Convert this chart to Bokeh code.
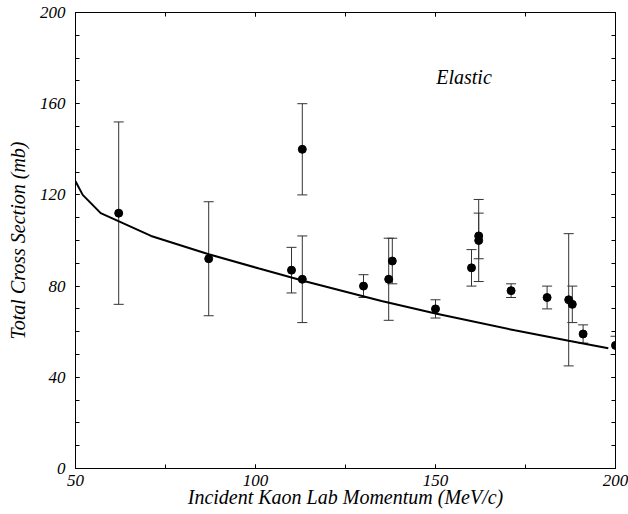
from bokeh.plotting import figure
from bokeh.models import (ColumnDataSource, Whisker, TeeHead, LinearAxis, Range1d,
                          SingleIntervalTicker, Label, CustomJSTickFormatter)
from bokeh.embed import file_html
from bokeh.resources import INLINE

# ---- data ----
momentum = [62, 87, 110, 113, 113, 130, 137, 138, 150, 160, 162, 162, 171, 181, 187, 188, 191, 200]
cross_section = [112, 92, 87, 83, 140, 80, 83, 91, 70, 88, 100, 102, 78, 75, 74, 72, 59, 54]
error = [40, 25, 10, 19, 20, 5, 18, 10, 4, 8, 18, 10, 3, 5, 29, 8, 4, 4]

curve_x = [50, 52, 57, 71, 87, 101, 114, 135, 150, 172, 187, 198]
curve_y = [126, 120, 112, 102, 94, 87.7, 82, 73.5, 68, 60.6, 56, 52.7]

x_ticks_interval = 50
y_ticks_interval = 40

FONT = "Liberation Serif, Times New Roman, DejaVu Serif, serif"

src = ColumnDataSource(dict(
    x=momentum, y=cross_section,
    lo=[v - e for v, e in zip(cross_section, error)],
    hi=[v + e for v, e in zip(cross_section, error)],
))

p = figure(width=628, height=514, output_backend="svg", toolbar_location=None,
           x_range=Range1d(50, 200), y_range=Range1d(0, 200),
           min_border_left=75, min_border_right=13, min_border_top=12, min_border_bottom=46,
           x_axis_location=None, y_axis_location=None)
p.grid.visible = False
p.outline_line_color = "black"

def style_axis(ax, show_labels):
    ax.axis_line_color = "black"
    ax.major_tick_in = 4
    ax.major_tick_out = 0
    ax.minor_tick_in = 4
    ax.minor_tick_out = 0
    ax.major_tick_line_color = "black"
    ax.minor_tick_line_color = "black"
    ax.major_label_text_font = FONT
    ax.major_label_text_font_style = "italic"
    ax.major_label_text_color = "black"
    ax.axis_label_text_font = FONT
    ax.axis_label_text_font_style = "italic"
    ax.axis_label_text_color = "black"
    ax.axis_label_text_font_size = "20px"
    if show_labels:
        ax.major_label_text_font_size = "17px"
    else:
        ax.formatter = CustomJSTickFormatter(code="return '';")
        ax.major_label_text_font_size = "1px"
        ax.major_label_standoff = 0

xb = LinearAxis(ticker=SingleIntervalTicker(interval=x_ticks_interval, num_minor_ticks=2),
                axis_label="Incident Kaon Lab Momentum (MeV/c)")
style_axis(xb, True)
xb.major_label_standoff = 6
xb.axis_label_standoff = -3
p.add_layout(xb, "below")

xt = LinearAxis(ticker=SingleIntervalTicker(interval=x_ticks_interval, num_minor_ticks=2))
style_axis(xt, False)
p.add_layout(xt, "above")

yl = LinearAxis(ticker=SingleIntervalTicker(interval=y_ticks_interval, num_minor_ticks=4),
                axis_label="Total Cross Section (mb)")
style_axis(yl, True)
yl.major_label_standoff = 10
yl.axis_label_standoff = 8
p.add_layout(yl, "left")

yr = LinearAxis(ticker=SingleIntervalTicker(interval=y_ticks_interval, num_minor_ticks=4))
style_axis(yr, False)
p.add_layout(yr, "right")

# error bars
w = Whisker(source=src, base="x", lower="lo", upper="hi", dimension="height",
            line_color="#333333", line_width=1,
            upper_head=TeeHead(size=10, line_color="#333333", line_width=1),
            lower_head=TeeHead(size=10, line_color="#333333", line_width=1))
p.add_layout(w)

# model curve
p.line(curve_x, curve_y, line_color="black", line_width=2)

# data points
p.scatter("x", "y", source=src, size=8, marker="circle", fill_color="black", line_color="black")

lab = Label(x=150.2, y=171.7, text="Elastic", text_font=FONT, text_font_style="italic",
            text_font_size="20px", text_color="black", text_baseline="alphabetic")
p.add_layout(lab)

open("out.html", "w").write(file_html(p, INLINE))
